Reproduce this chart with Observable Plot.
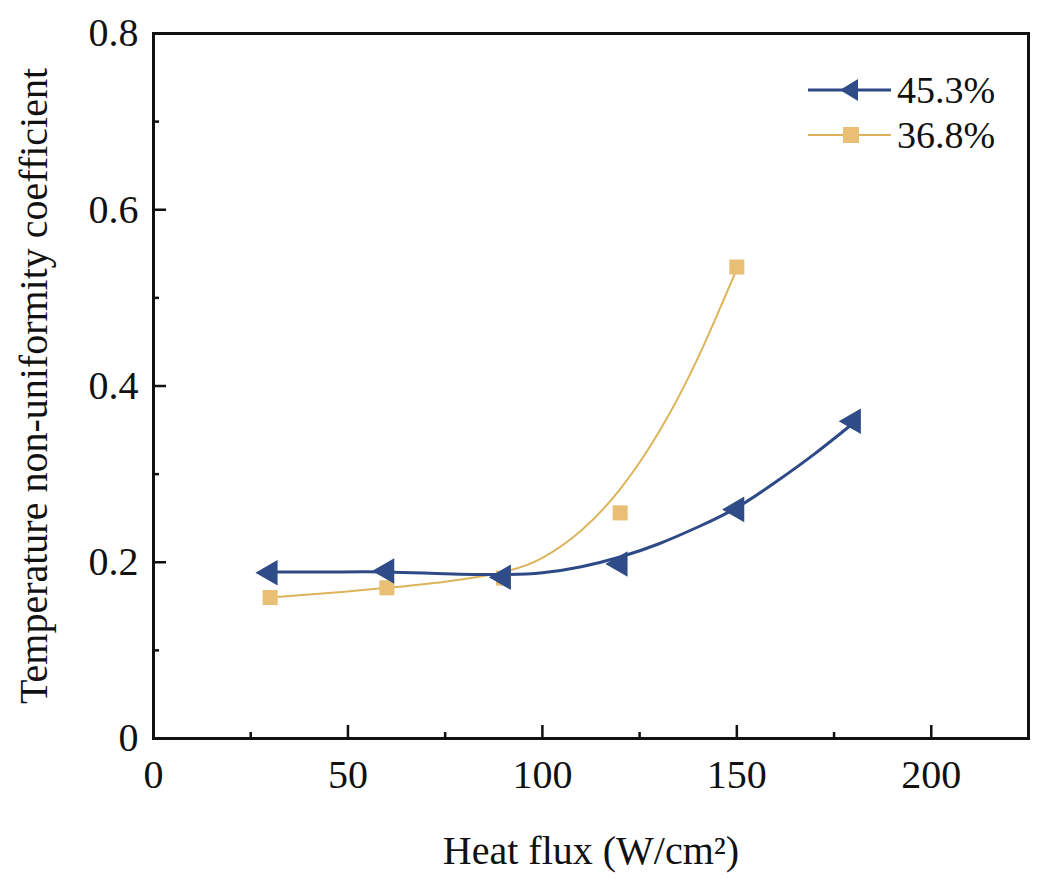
<!DOCTYPE html>
<html>
<head>
<meta charset="utf-8">
<script src="https://cdn.jsdelivr.net/npm/d3@7"></script>
<script src="https://cdn.jsdelivr.net/npm/@observablehq/plot@0.6"></script>
<style>
  html, body { margin: 0; padding: 0; background: #fff; }
  #chart { width: 1037px; height: 881px; }
</style>
</head>
<body>
<div id="chart"></div>
<script>
// ---- data ----
const heatFlux = [30, 60, 90, 120, 150, 180];
const series453 = [0.188, 0.190, 0.183, 0.198, 0.260, 0.360];
const heatFlux368 = [30, 60, 90, 120, 150];
const series368 = [0.160, 0.171, 0.182, 0.256, 0.535];

// fitted curves as drawn in the reference
const fitX453 = [30, 45, 60, 75, 90, 100, 110, 120, 130, 140, 150, 160, 170, 180];
const fitY453 = [0.189, 0.189, 0.189, 0.187, 0.186, 0.188, 0.195, 0.206, 0.221, 0.240, 0.262, 0.291, 0.323, 0.358];
const fitX368 = [30, 45, 60, 75, 90, 100, 110, 120, 130, 140, 150];
const fitY368 = [0.160, 0.165, 0.171, 0.178, 0.189, 0.205, 0.236, 0.283, 0.348, 0.432, 0.533];

const seriesNames = ["45.3%", "36.8%"];
const colors = {line453: "#2d4a87", dot453: "#2f4b88", line368: "#ddb45a", dot368: "#e8bf75"};

const xMajor = [0, 50, 100, 150, 200];
const xMinor = [25, 75, 125, 175, 225];
const yMajor = [0, 0.2, 0.4, 0.6, 0.8];
const yMinor = [0.1, 0.3, 0.5, 0.7];
const xLabel = "Heat flux (W/cm²)";
const yLabel = "Temperature non-uniformity coefficient";

const pts453 = heatFlux.map((x, i) => ({x, y: series453[i]}));
const pts368 = heatFlux368.map((x, i) => ({x, y: series368[i]}));
const fit453 = fitX453.map((x, i) => ({x, y: fitY453[i]}));
const fit368 = fitX368.map((x, i) => ({x, y: fitY368[i]}));

const fmtY = d => d === 0 ? "0" : d3.format(".1f")(d);
const serif = "'Liberation Serif', Tinos, 'Times New Roman', Times, 'Nimbus Roman', 'Nimbus Roman No9 L', FreeSerif, 'Noto Serif', 'DejaVu Serif', serif";

const chart = Plot.plot({
  width: 1037,
  height: 881,
  marginLeft: 153,
  marginRight: 9,
  marginTop: 33,
  marginBottom: 143,
  style: {fontFamily: serif, fontSize: "40px", color: "#111", background: "#fff"},
  x: {domain: [0, 225]},
  y: {domain: [0, 0.8]},
  marks: [
    Plot.axisX(xMinor, {tickSize: -6, strokeWidth: 2.5, text: null, label: null}),
    Plot.axisX(xMajor, {tickSize: -13, strokeWidth: 2.5, tickPadding: 34, fontSize: 40, label: xLabel, labelAnchor: "center", labelArrow: "none", labelOffset: 125}),
    Plot.axisY(yMinor, {tickSize: -6, strokeWidth: 2.5, text: null, label: null}),
    Plot.axisY(yMajor, {tickSize: -13, strokeWidth: 2.5, tickPadding: 28, fontSize: 40, tickFormat: fmtY, label: yLabel, labelAnchor: "center", labelArrow: "none", labelOffset: 135}),
    Plot.frame({stroke: "#111", strokeWidth: 3}),
    Plot.line(fit368, {x: "x", y: "y", curve: "natural", stroke: colors.line368, strokeWidth: 2}),
    Plot.line(fit453, {x: "x", y: "y", curve: "natural", stroke: colors.line453, strokeWidth: 3}),
    Plot.dot(pts368, {x: "x", y: "y", symbol: "square", r: 8.5, fill: colors.dot368, stroke: "none"}),
    Plot.dot(pts453, {x: "x", y: "y", symbol: "triangle", rotate: -90, r: 9.5, fill: colors.dot453, stroke: "none"})
  ]
});

// legend inside the frame (top-right)
const svg = d3.select(chart);
const lg = svg.append("g").attr("font-family", serif).attr("font-size", 38).attr("fill", "#111").attr("text-anchor", "start");
const legendItems = [
  {name: seriesNames[0], line: colors.line453, fill: colors.dot453, w: 3, kind: "tri"},
  {name: seriesNames[1], line: colors.line368, fill: colors.dot368, w: 2, kind: "sq"}
];
legendItems.forEach((d, i) => {
  const cy = 90 + i * 45;
  lg.append("line").attr("x1", 808).attr("x2", 891).attr("y1", cy).attr("y2", cy).attr("stroke", d.line).attr("stroke-width", d.w);
  if (d.kind === "tri") {
    lg.append("path").attr("d", `M${840},${cy} L${858},${cy - 11} L${858},${cy + 11} Z`).attr("fill", d.fill);
  } else {
    lg.append("rect").attr("x", 843).attr("y", cy - 8).attr("width", 16).attr("height", 16).attr("fill", d.fill);
  }
  lg.append("text").attr("x", 897).attr("y", cy).attr("dy", "0.35em").attr("text-anchor", "start").text(d.name);
});

document.getElementById("chart").appendChild(chart);
</script>
</body>
</html>
